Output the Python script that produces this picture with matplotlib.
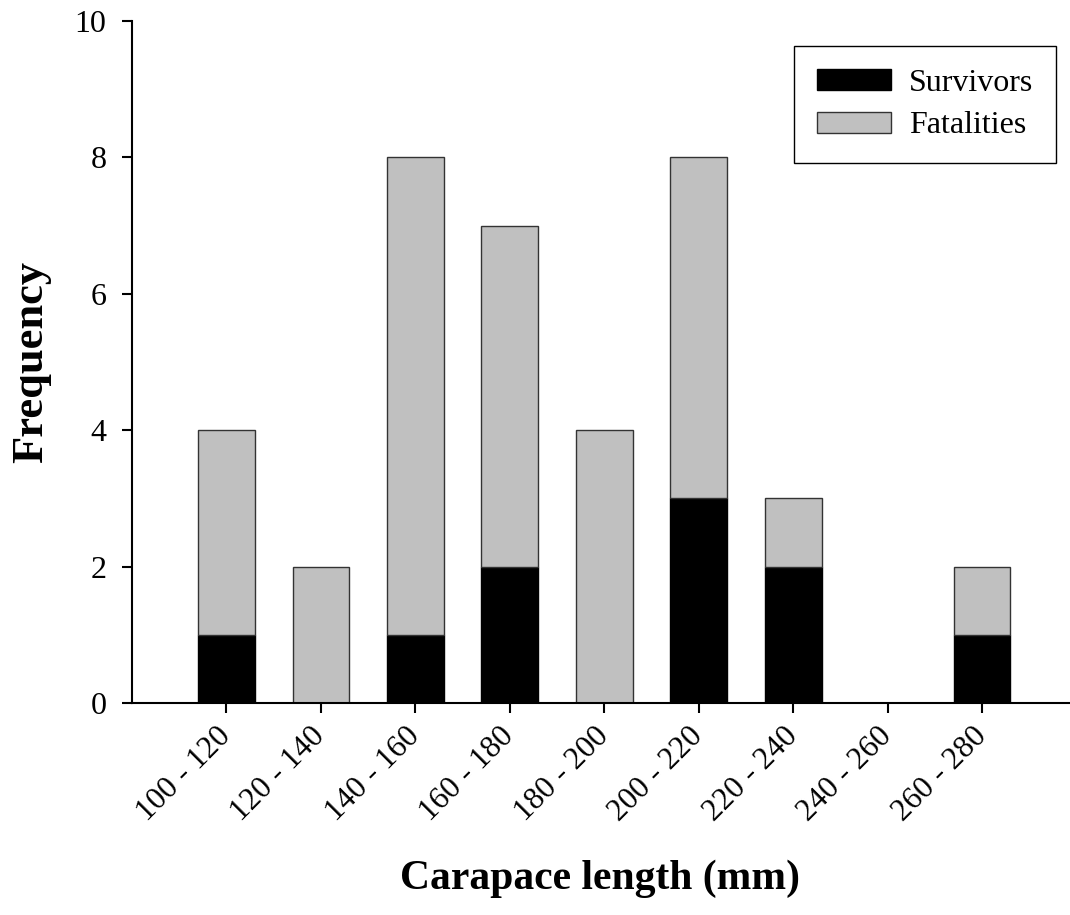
import matplotlib
matplotlib.use("Agg")
import matplotlib.pyplot as plt
import numpy as np
from matplotlib.patches import Patch

# Carapace length classes (mm) and counts per class
size_classes = ["100 - 120", "120 - 140", "140 - 160", "160 - 180", "180 - 200",
                "200 - 220", "220 - 240", "240 - 260", "260 - 280"]
survivors = [1, 0, 1, 2, 0, 3, 2, 0, 1]
fatalities = [3, 2, 7, 5, 4, 5, 1, 0, 1]
y_ticks = [0, 2, 4, 6, 8, 10]

plt.rcParams["font.family"] = ["Liberation Serif", "DejaVu Serif"]

fig = plt.figure(figsize=(10.7, 9.15), dpi=100)
ax = fig.add_axes([132 / 1070, 1 - 703 / 915, (1069 - 132) / 1070, (703 - 21) / 915])

x = np.arange(len(size_classes))
width = 0.6
ax.bar(x, survivors, width, color="black", edgecolor="black", linewidth=1.0,
       label="Survivors", zorder=2)
ax.bar(x, fatalities, width, bottom=survivors, color="#c0c0c0", edgecolor="#333333",
       linewidth=1.0, label="Fatalities", zorder=2)

ax.set_xlim(-1.0, 8.92)
ax.set_ylim(0, 10)
ax.set_yticks(y_ticks)
ax.set_xticks(x)
ax.set_xticklabels(size_classes, rotation=45, ha="right", va="center",
                   rotation_mode="anchor")

for s in ("top", "right"):
    ax.spines[s].set_visible(False)
for s in ("left", "bottom"):
    ax.spines[s].set_linewidth(1.5)

ax.tick_params(axis="both", direction="out", length=7.5, width=1.5, labelsize=23)
ax.tick_params(axis="y", pad=11)
ax.tick_params(axis="x", pad=13, labelsize=22.5)

ax.set_xlabel("Carapace length (mm)", fontsize=30, fontweight="bold", labelpad=24)
ax.set_ylabel("Frequency", fontsize=32, fontweight="bold", labelpad=17)

handles = [Patch(facecolor="black", edgecolor="black", linewidth=1.0),
           Patch(facecolor="#c0c0c0", edgecolor="#333333", linewidth=1.0)]
leg = ax.legend(handles, ["Survivors", "Fatalities"], loc="upper right",
                bbox_to_anchor=(1056 / 1070, 1 - 46 / 915), bbox_transform=fig.transFigure,
                fontsize=23, frameon=True, fancybox=False, framealpha=1,
                edgecolor="black", handlelength=2.32, handleheight=0.63,
                handletextpad=0.56, labelspacing=0.42, borderpad=0.72,
                borderaxespad=0)
leg.get_frame().set_linewidth(1.0)

fig.savefig("out.png", dpi=100)
